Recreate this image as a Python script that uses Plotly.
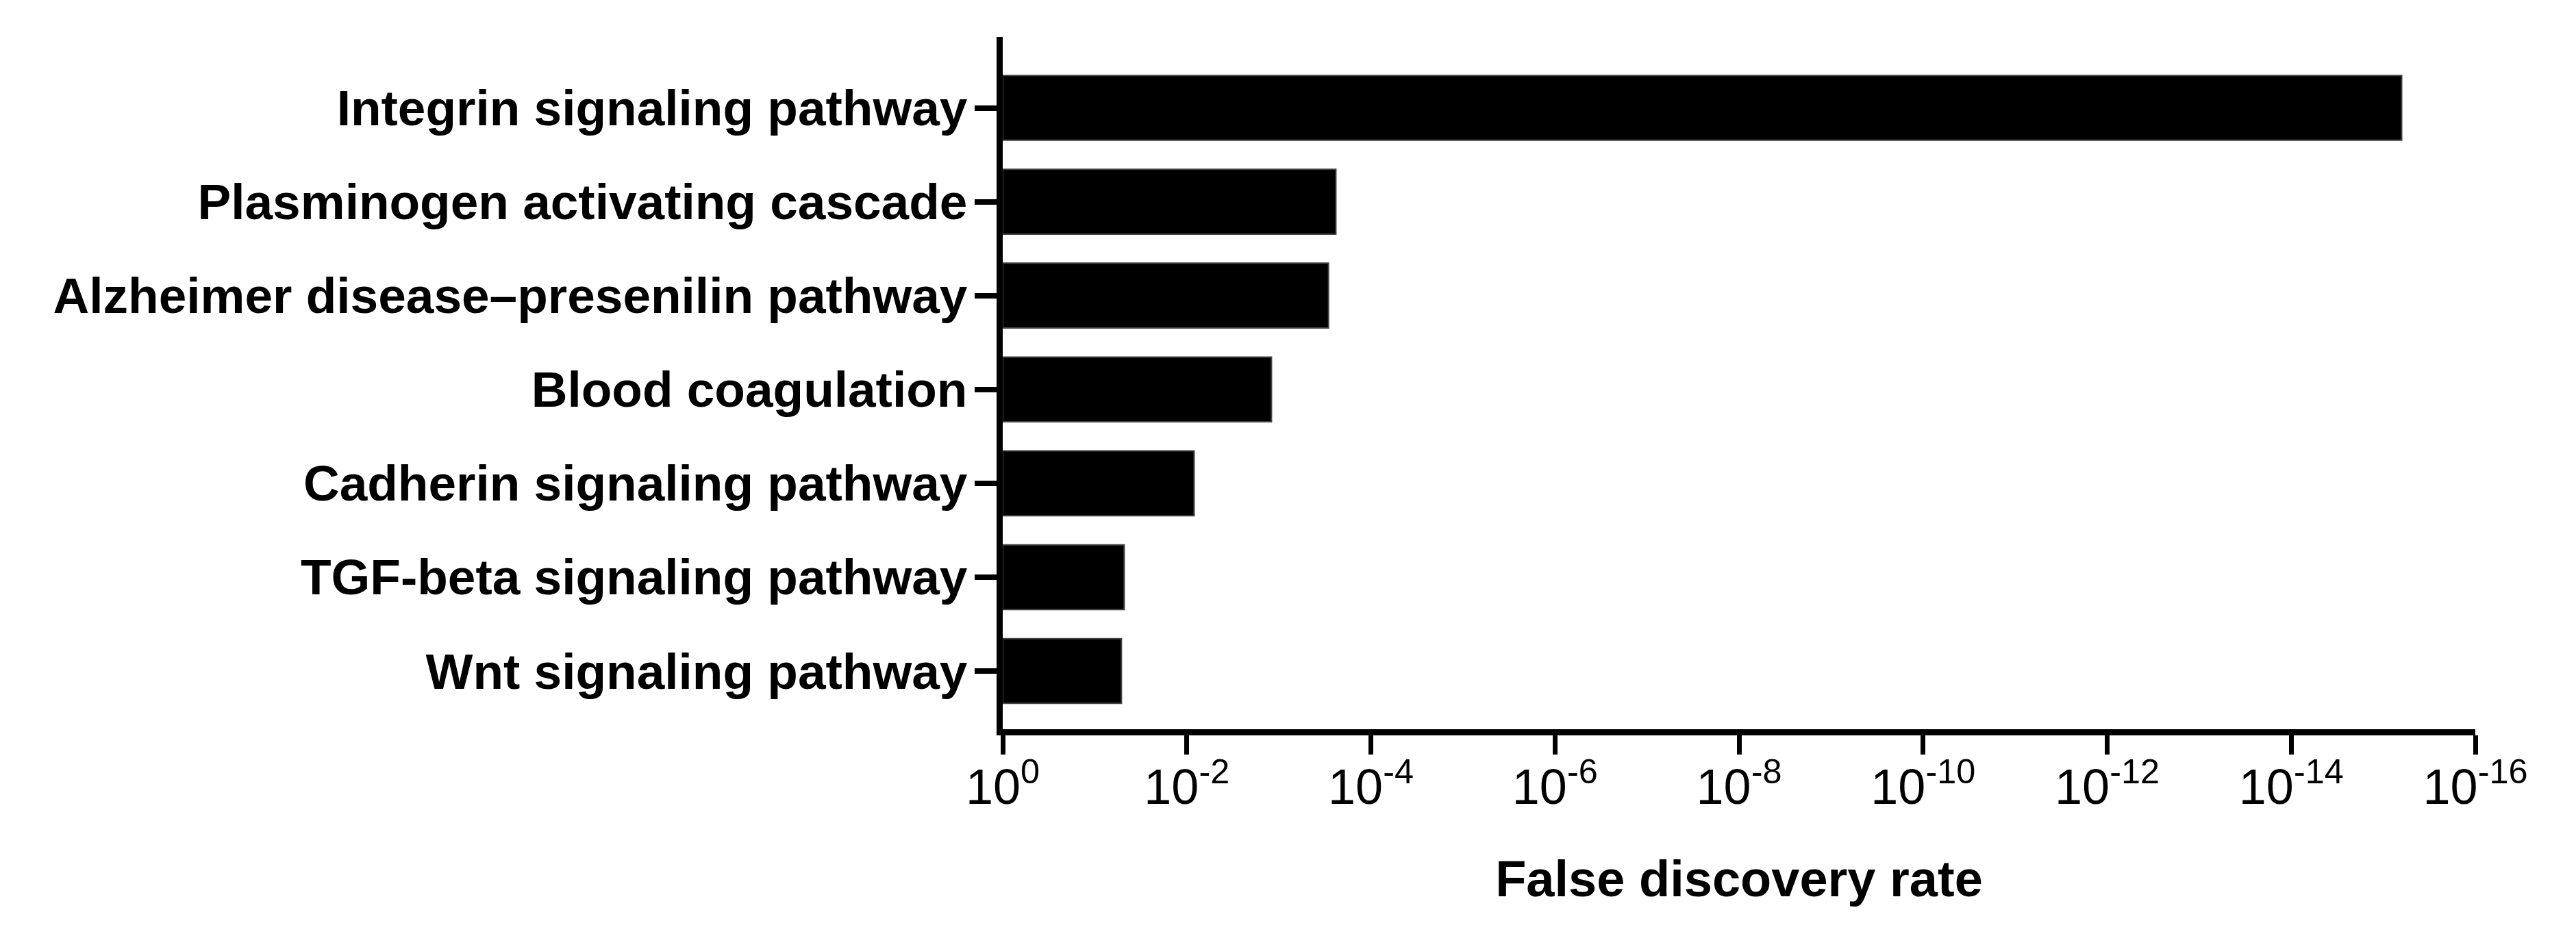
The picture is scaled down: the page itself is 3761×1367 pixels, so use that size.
import plotly.graph_objects as go

pathways = [
    "Integrin signaling pathway",
    "Plasminogen activating cascade",
    "Alzheimer disease\u2013presenilin pathway",
    "Blood coagulation",
    "Cadherin signaling pathway",
    "TGF-beta signaling pathway",
    "Wnt signaling pathway",
]
# -log10(FDR)
neg_log_fdr = [15.2, 3.62, 3.54, 2.92, 2.08, 1.32, 1.29]

tick_vals = [0, 2, 4, 6, 8, 10, 12, 14, 16]
tick_text = ["10<sup>0</sup>"] + [f"10<sup>-{v}</sup>" for v in tick_vals[1:]]

fig = go.Figure(
    go.Bar(
        x=neg_log_fdr,
        y=pathways,
        orientation="h",
        width=0.69,
        marker=dict(color="black", line=dict(color="#444444", width=2)),
    )
)

# page body keeps its default 8px margin, so the figure is 16px smaller
fig.update_layout(
    width=3745,
    height=1351,
    autosize=False,
    margin=dict(l=1456, r=139, t=46, b=294),
    plot_bgcolor="white",
    paper_bgcolor="white",
    showlegend=False,
    font=dict(family="Liberation Sans, Arial, sans-serif", color="black"),
)

fig.update_xaxes(
    range=[0, 16],
    tickvals=tick_vals,
    ticktext=tick_text,
    tickfont=dict(size=72),
    ticks="outside",
    ticklen=28,
    tickwidth=7,
    tickcolor="black",
    ticklabelstandoff=-14,
    showline=True,
    linewidth=9,
    linecolor="black",
    showgrid=False,
    zeroline=False,
    title=dict(
        text="False discovery rate",
        font=dict(size=74, weight="bold"),
        standoff=72,
    ),
)

fig.update_yaxes(
    categoryorder="array",
    categoryarray=pathways,
    range=[6.62, -0.755],
    tickfont=dict(size=73, weight="bold"),
    ticks="outside",
    ticklen=32,
    tickwidth=8,
    tickcolor="black",
    ticklabelstandoff=-4,
    showline=True,
    linewidth=9,
    linecolor="black",
    showgrid=False,
    zeroline=False,
)

fig.write_html("out.html")
